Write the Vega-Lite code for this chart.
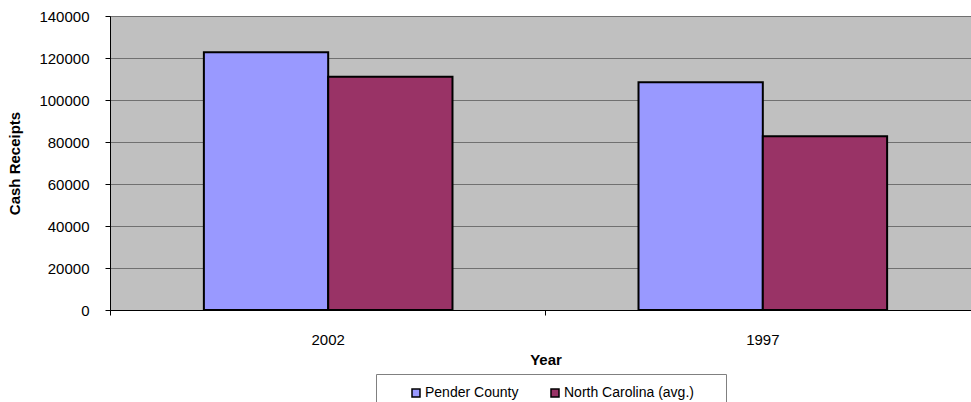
{
  "$schema": "https://vega.github.io/schema/vega-lite/v6.json",
  "width": 871,
  "height": 294,
  "autosize": {"type": "none"},
  "padding": {"left": 110, "top": 16, "right": -10, "bottom": 92},
  "background": "white",
  "config": {
    "font": "Liberation Sans",
    "view": {"fill": "#C0C0C0", "stroke": "#808080", "strokeWidth": 1}
  },
  "data": {
    "values": [
      {"year": "2002", "series": "Pender County", "value": 122700},
      {"year": "2002", "series": "North Carolina (avg.)", "value": 111100},
      {"year": "1997", "series": "Pender County", "value": 108400},
      {"year": "1997", "series": "North Carolina (avg.)", "value": 82700}
    ]
  },
  "layer": [
    {
      "mark": {"type": "bar", "stroke": "black", "strokeWidth": 2},
      "encoding": {
        "x": {
          "field": "year",
          "type": "nominal",
          "sort": ["2002", "1997"],
          "scale": {"paddingInner": 0.428, "paddingOuter": 0.216},
          "axis": {
            "orient": "bottom",
            "title": "Year",
            "titleFontSize": 15,
            "titleFontWeight": "bold",
            "titleColor": "black",
            "titlePadding": 5,
            "labelFontSize": 15,
            "labelColor": "black",
            "labelAngle": 0,
            "labelPadding": 22,
            "ticks": false,
            "domainColor": "black",
            "domainWidth": 1
          }
        },
        "xOffset": {
          "field": "series",
          "type": "nominal",
          "sort": ["Pender County", "North Carolina (avg.)"],
          "scale": {"paddingInner": 0, "paddingOuter": 0}
        },
        "y": {
          "field": "value",
          "type": "quantitative",
          "scale": {"domain": [0, 140000], "nice": false},
          "axis": {
            "values": [0, 20000, 40000, 60000, 80000, 100000, 120000, 140000],
            "format": "d",
            "title": "Cash Receipts",
            "titleFontSize": 15,
            "titleFontWeight": "bold",
            "titleColor": "black",
            "titlePadding": 16,
            "labelFontSize": 15,
            "labelColor": "black",
            "labelPadding": 16,
            "tickSize": 5,
            "tickColor": "black",
            "domainColor": "black",
            "gridColor": "#707070",
            "gridOpacity": 1
          }
        },
        "color": {
          "field": "series",
          "type": "nominal",
          "sort": ["Pender County", "North Carolina (avg.)"],
          "scale": {"range": ["#9999FF", "#993366"]},
          "legend": {
            "orient": "none",
            "legendX": 266,
            "legendY": 358,
            "direction": "horizontal",
            "title": null,
            "strokeColor": "#808080",
            "fillColor": "white",
            "padding": 12,
            "symbolType": "square",
            "symbolSize": 64,
            "symbolStrokeColor": "black",
            "symbolStrokeWidth": 1.5,
            "symbolOpacity": 1,
            "symbolOffset": 21,
            "labelFontSize": 14,
            "labelColor": "black",
            "labelOffset": 2,
            "labelLimit": 400,
            "columnPadding": 8,
            "labelExpr": "datum.label == 'North Carolina (avg.)' ? datum.label + '\u2800\u2800' : datum.label"
          }
        }
      }
    },
    {
      "mark": {"type": "rule", "opacity": 0},
      "encoding": {
        "x": {
          "field": "year",
          "type": "nominal",
          "sort": ["2002", "1997"],
          "scale": {"paddingInner": 0, "paddingOuter": 0},
          "axis": {
            "orient": "bottom",
            "bandPosition": 0,
            "labels": false,
            "title": null,
            "domain": false,
            "ticks": true,
            "tickSize": 5,
            "tickColor": "black",
            "grid": false
          }
        }
      }
    }
  ],
  "resolve": {"scale": {"x": "independent"}, "axis": {"x": "independent"}}
}
